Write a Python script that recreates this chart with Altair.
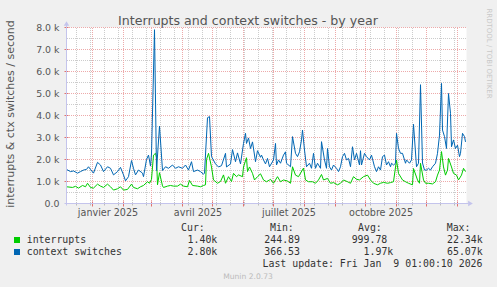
import altair as alt
import pandas as pd

# ---------------- data (days since 2024-12-06, values per second) ----------------
blue_day = [0, 4, 7, 11, 14, 17, 20, 22, 24, 27, 31, 34, 37, 41, 44, 47, 51, 54, 57, 59,
            62, 65, 67, 69, 72, 76, 77, 80, 82, 84, 85, 88, 90, 93, 96, 99, 102, 106, 109, 112,
            116, 119, 122, 125, 127, 131, 134, 137, 138, 141, 143, 145, 149, 152, 155, 159, 160, 164, 166, 169,
            171, 174, 177, 179, 180, 182, 184, 186, 189, 191, 194, 195, 197, 199, 201, 203, 207, 209, 210, 212,
            214, 217, 219, 220, 224, 226, 229, 231, 233, 235, 236, 238, 240, 243, 245, 247, 249, 251, 254, 255,
            258, 260, 261, 263, 265, 267, 270, 272, 274, 276, 278, 280, 282, 284, 286, 288, 290, 293, 294, 295,
            298, 300, 303, 305, 308, 310, 312, 314, 316, 318, 320, 322, 324, 325, 327, 329, 330, 332, 334, 336,
            339, 340, 343, 345, 347, 350, 352, 354, 356, 358, 360, 362, 364, 366, 369, 371, 373, 375, 376, 378,
            380, 382, 384, 385, 387, 389, 391, 393, 394, 396, 398, 399]
blue_val = [1550, 1450, 1480, 1380, 1450, 1520, 1550, 1670, 1550, 1380, 1870, 1750, 1450, 1670, 1600, 1300, 1450, 1640, 1300, 1030,
            1220, 1950, 1600, 1300, 1520, 1380, 1220, 2000, 2200, 1700, 2250, 7900, 1500, 3520, 1500, 1670, 1600, 1750, 1600, 1670,
            1600, 1750, 1520, 1900, 1450, 1520, 1450, 1330, 1380, 3900, 3950, 2130, 1800, 1660, 1720, 2280, 1660, 1800, 2450, 1900,
            2300, 1800, 2730, 3190, 2730, 2980, 2500, 2800, 1900, 2400, 2100, 2200, 1980, 1800, 2050, 1670, 1980, 2730, 1750, 1980,
            1830, 2200, 2350, 1830, 1670, 3040, 2280, 2130, 2350, 2890, 3340, 2430, 1670, 1830, 1600, 2280, 1600, 1830, 1600, 2810,
            1980, 1600, 2500, 1670, 1520, 1750, 1600, 1450, 1670, 2130, 2280, 1980, 2050, 1670, 2580, 1980, 2280, 1750, 2400, 1750,
            2280, 2130, 1980, 2200, 1670, 1450, 1670, 1520, 2130, 2200, 1750, 1900, 1670, 1830, 1750, 1830, 3190, 2500, 2280, 2280,
            1830, 1980, 1830, 1980, 3600, 1670, 1830, 5400, 1840, 1520, 1520, 1600, 1520, 1670, 1830, 2280, 3110, 5460, 3340, 3040,
            2500, 5000, 4100, 2580, 2890, 2500, 2650, 2130, 2280, 3190, 3040, 2800]

green_day = [0, 6, 9, 12, 16, 19, 21, 24, 27, 31, 34, 37, 41, 44, 47, 51, 54, 57, 61, 65,
             67, 71, 74, 77, 81, 83, 85, 87, 89, 90, 91, 93, 96, 97, 101, 104, 107, 111, 114, 117,
             121, 123, 126, 131, 134, 137, 139, 140, 142, 145, 147, 151, 154, 157, 159, 162, 165, 167, 170, 172,
             176, 177, 180, 181, 183, 186, 188, 191, 194, 197, 200, 203, 204, 207, 211, 214, 217, 221, 224, 226,
             229, 232, 237, 239, 242, 246, 249, 252, 255, 257, 261, 264, 267, 271, 274, 277, 281, 284, 287, 290,
             293, 297, 301, 304, 307, 311, 314, 317, 321, 324, 327, 330, 332, 336, 339, 342, 346, 347, 351, 353,
             354, 357, 359, 362, 366, 369, 371, 373, 375, 377, 379, 381, 382, 385, 387, 390, 392, 395, 397, 398, 399]
green_val = [760, 730, 780, 700, 820, 760, 920, 730, 700, 880, 790, 730, 880, 760, 610, 670, 760, 610, 640, 880,
             730, 670, 760, 820, 990, 920, 1100, 2200, 2280, 2100, 850, 1400, 800, 730, 790, 820, 790, 790, 880, 790,
             760, 1050, 820, 790, 760, 820, 850, 2000, 2280, 1660, 1070, 920, 1000, 1300, 920, 1220, 1000, 1370, 1220, 1300,
             1220, 1660, 2080, 1450, 1660, 1370, 1070, 1220, 1350, 1070, 990, 1070, 1100, 920, 1220, 990, 1070, 1020, 920, 1670,
             1290, 1220, 1610, 1070, 990, 990, 920, 1070, 1320, 1070, 1140, 920, 950, 850, 920, 1070, 990, 920, 1220, 1100,
             1070, 1220, 1290, 1070, 920, 850, 920, 960, 920, 950, 990, 1980, 1370, 1070, 990, 920, 850, 1590, 1070, 920,
             1830, 1070, 920, 920, 890, 990, 1290, 1520, 2360, 1660, 1290, 1520, 2050, 1660, 1370, 1290, 1070, 1290, 1600, 1520, 1450]

series_names = ["interrupts", "context switches"]
series_colors = ["#00CC00", "#0066B3"]
cur_vals = ["1.40k", "2.80k"]
min_vals = ["244.89", "366.53"]
avg_vals = ["999.78", "1.97k"]
max_vals = ["22.34k", "65.07k"]

y_ticks = [0, 1000, 2000, 3000, 4000, 5000, 6000, 7000, 8000]
y_tick_labels = ["0.0", "1.0 k", "2.0 k", "3.0 k", "4.0 k", "5.0 k", "6.0 k", "7.0 k", "8.0 k"]
y_minor = [500, 1500, 2500, 3500, 4500, 5500, 6500, 7500]

x_labels = ["janvier 2025", "avril 2025", "juillet 2025", "octobre 2025"]
x_label_months = ["2025-01-01", "2025-04-01", "2025-07-01", "2025-10-01"]

# ---------------- derived tables ----------------
start = pd.Timestamp("2024-12-06")
month_starts = pd.date_range("2025-01-01", "2026-01-01", freq="MS")
month_days = [(m - start).days for m in month_starts]
biweekly = pd.date_range("2024-12-16", "2026-01-09", freq="14D")
minor_days = [(m - start).days for m in biweekly if (m - start).days not in month_days]
label_days = [(pd.Timestamp(s) - start).days + 15.5 for s in x_label_months]

W, H = 400, 176
OX, OY = 66.5, 27.5
xs = alt.Scale(domain=[0, 400], nice=False, zero=False)
ys = alt.Scale(domain=[0, 8000], nice=False)

one = pd.DataFrame({"k": [0]})
RED = "#EDAAAA"
GREY = "#CCCCCC"
AXC = "#C4C4EC"
TXT = "#555555"
LEG = "#333333"


def txt(s, x, y, size=9.9, color=LEG, font="DejaVu Sans Mono", align="left", angle=0, baseline="alphabetic"):
    kw = dict(text=s, fontSize=size, color=color, font=font, align=align, baseline=baseline)
    if angle:
        kw["angle"] = angle
    return alt.Chart(one).mark_text(**kw).encode(x=alt.value(x - OX), y=alt.value(y - OY))


layers = []

# horizontal grid
layers.append(alt.Chart(pd.DataFrame({"v": y_minor})).mark_rule(color=GREY, strokeDash=[1, 1], strokeWidth=1).encode(
    y=alt.Y("v:Q", scale=ys, axis=None), x=alt.value(0.5), x2=alt.value(W)))
layers.append(alt.Chart(pd.DataFrame({"v": y_ticks[1:]})).mark_rule(color=RED, strokeDash=[1, 1], strokeWidth=1).encode(
    y=alt.Y("v:Q", scale=ys, axis=None), x=alt.value(0.5), x2=alt.value(W)))
# vertical grid
layers.append(alt.Chart(pd.DataFrame({"d": minor_days})).mark_rule(color=GREY, strokeDash=[1, 1], strokeWidth=1).encode(
    x=alt.X("d:Q", scale=xs, axis=None), y=alt.value(0.5), y2=alt.value(H)))
layers.append(alt.Chart(pd.DataFrame({"d": month_days})).mark_rule(color=RED, strokeDash=[1, 1], strokeWidth=1).encode(
    x=alt.X("d:Q", scale=xs, axis=None), y=alt.value(0.5), y2=alt.value(H)))
# ticks on x axis
layers.append(alt.Chart(pd.DataFrame({"d": minor_days})).mark_rule(color="#BBBBBB", strokeWidth=1).encode(
    x=alt.X("d:Q", scale=xs, axis=None), y=alt.value(H - 1), y2=alt.value(H + 2)))
layers.append(alt.Chart(pd.DataFrame({"d": month_days})).mark_rule(color="#E07070", strokeWidth=1).encode(
    x=alt.X("d:Q", scale=xs, axis=None), y=alt.value(H - 2), y2=alt.value(H + 3)))
# ticks on y axis
layers.append(alt.Chart(pd.DataFrame({"v": y_ticks[1:]})).mark_rule(color="#E07070", strokeWidth=1).encode(
    y=alt.Y("v:Q", scale=ys, axis=None), x=alt.value(-2), x2=alt.value(2)))

# series lines
layers.append(alt.Chart(pd.DataFrame({"d": green_day, "v": green_val})).mark_line(
    color=series_colors[0], strokeWidth=1).encode(
    x=alt.X("d:Q", scale=xs, axis=None), y=alt.Y("v:Q", scale=ys, axis=None)))
layers.append(alt.Chart(pd.DataFrame({"d": blue_day, "v": blue_val})).mark_line(
    color=series_colors[1], strokeWidth=1).encode(
    x=alt.X("d:Q", scale=xs, axis=None), y=alt.Y("v:Q", scale=ys, axis=None)))

# axis lines and arrows
layers.append(alt.Chart(one).mark_rule(color=AXC, strokeWidth=1).encode(
    x=alt.value(0), y=alt.value(-3), y2=alt.value(H + 2)))
layers.append(alt.Chart(one).mark_rule(color=AXC, strokeWidth=1).encode(
    x=alt.value(-2), x2=alt.value(W + 2), y=alt.value(H)))
layers.append(alt.Chart(one).mark_point(shape="triangle-up", filled=True, color=AXC, size=30, opacity=1).encode(
    x=alt.value(0), y=alt.value(-4)))
layers.append(alt.Chart(one).mark_point(shape="triangle-right", filled=True, color=AXC, size=30, opacity=1).encode(
    x=alt.value(W + 4), y=alt.value(H)))

# y tick labels
layers.append(alt.Chart(pd.DataFrame({"v": y_ticks, "t": y_tick_labels})).mark_text(
    align="right", baseline="alphabetic", dy=3.5, fontSize=9.4, font="DejaVu Sans", color=TXT).encode(
    y=alt.Y("v:Q", scale=ys, axis=None), x=alt.value(-7), text="t:N"))
# x labels
layers.append(alt.Chart(pd.DataFrame({"d": label_days, "t": x_labels})).mark_text(
    align="center", baseline="alphabetic", fontSize=9.6, font="DejaVu Sans", color=TXT).encode(
    x=alt.X("d:Q", scale=xs, axis=None), y=alt.value(216 - OY), text="t:N"))

# titles and watermark
layers.append(txt("Interrupts and context switches - by year", 248, 25, size=12.6, color=TXT, font="DejaVu Sans", align="center"))
layers.append(txt("interrupts & ctx switches / second", 11, 114, size=11, color=TXT, font="DejaVu Sans",
                  align="center", angle=270, baseline="middle"))
layers.append(txt("RRDTOOL / TOBI OETIKER", 488.5, 53.5, size=7, color="#C8C8C8", font="DejaVu Sans",
                  align="center", angle=90, baseline="middle"))
layers.append(txt("Munin 2.0.73", 248, 279, size=7.6, color="#BBBBBB", font="DejaVu Sans", align="center"))

# legend
layers.append(txt("Cur:", 181, 231.3))
layers.append(txt("Min:", 270, 231.3))
layers.append(txt("Avg:", 358, 231.3))
layers.append(txt("Max:", 446.7, 231.3))
for i, (name, col) in enumerate(zip(series_names, series_colors)):
    yb = 243.3 + 12 * i
    layers.append(alt.Chart(one).mark_square(color=col, size=36, filled=True, opacity=1).encode(
        x=alt.value(17 - OX), y=alt.value(yb - 3.3 - OY)))
    layers.append(txt(name, 26.7, yb))
    layers.append(txt(cur_vals[i], 217.3, yb, align="right"))
    layers.append(txt(min_vals[i], 300, yb, align="right"))
    layers.append(txt(avg_vals[i], 387.3 if not avg_vals[i].endswith("k") else 393.3, yb, align="right"))
    layers.append(txt(max_vals[i], 482.7, yb, align="right"))
layers.append(txt("Last update: Fri Jan\u00a0 9 01:00:10 2026", 482.5, 266.7, align="right"))

chart = alt.layer(*layers).properties(
    width=W, height=H,
    background="#F0F0F0",
    padding={"left": OX, "top": OY, "right": 497 - OX - W, "bottom": 287 - OY - H},
    autosize=alt.AutoSizeParams(type="none"),
).configure_view(fill="white", stroke=None)

chart.save("out.html", embed_options={"renderer": "svg", "actions": False})
